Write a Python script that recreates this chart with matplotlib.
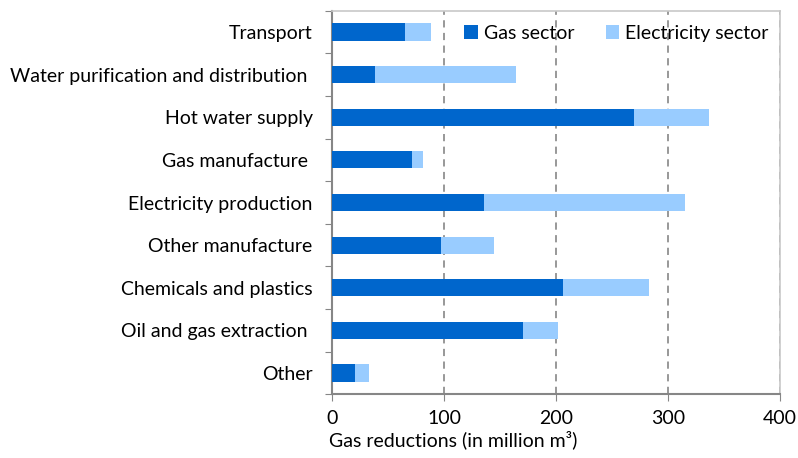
import matplotlib.pyplot as plt
import numpy as np

plt.rcParams['font.family'] = ['Lato', 'DejaVu Sans']

categories = ['Transport', 'Water purification and distribution ', 'Hot water supply',
              'Gas manufacture ', 'Electricity production', 'Other manufacture',
              'Chemicals and plastics', 'Oil and gas extraction ', 'Other']
gas_sector = [65.4, 38, 270, 71.4, 135.7, 97.6, 206.2, 170.5, 20.8]
total = [88, 164, 336.6, 81.5, 315.4, 144.6, 282.7, 201.4, 33]
electricity_sector = [t - g for t, g in zip(total, gas_sector)]

fig = plt.figure(figsize=(7.98, 4.58), dpi=100)
ax = fig.add_axes([332 / 798, (458 - 394.3) / 458, 448 / 798, 383.6 / 458])

y = np.arange(len(categories))
ax.barh(y, gas_sector, height=0.4, color='#0066CC', label='Gas sector', zorder=3)
ax.barh(y, electricity_sector, left=gas_sector, height=0.4, color='#99CCFF',
        label='Electricity sector', zorder=3)

ax.set_ylim(len(categories) - 0.5, -0.5)
ax.set_yticks(np.arange(len(categories) + 1) - 0.5, minor=False)
ax.set_yticklabels([])
ax.set_yticks(y, minor=True)
ax.set_yticklabels(categories, minor=True, fontsize=14)
ax.tick_params(axis='y', which='minor', length=0, pad=14)
ax.tick_params(axis='y', which='major', length=5, color='#868686')

ax.set_xlim(0, 400)
ax.set_xticks([0, 100, 200, 300, 400])
ax.tick_params(axis='x', labelsize=14, length=5, color='#868686', pad=6)
ax.xaxis.grid(True, linestyle=(0, (4, 3)), color='#909090', linewidth=1.3, zorder=0)
ax.set_xlabel('Gas reductions (in million m³)', fontsize=14, labelpad=2)
ax.xaxis.set_label_coords(0.27, -0.095)

for s in ['left', 'bottom']:
    ax.spines[s].set_color('#868686')
    ax.spines[s].set_linewidth(1.5)
for s in ['top', 'right']:
    ax.spines[s].set_color('#C8C8C8')
    ax.spines[s].set_linewidth(1.2)

ax.legend(loc='upper right', ncol=2, frameon=False, fontsize=14, handlelength=0.7,
          handleheight=0.7, handletextpad=0.3, columnspacing=1.6,
          bbox_to_anchor=(1.0, 0.994), borderaxespad=0.2)

fig.savefig('out.png', dpi=100, facecolor='white')
